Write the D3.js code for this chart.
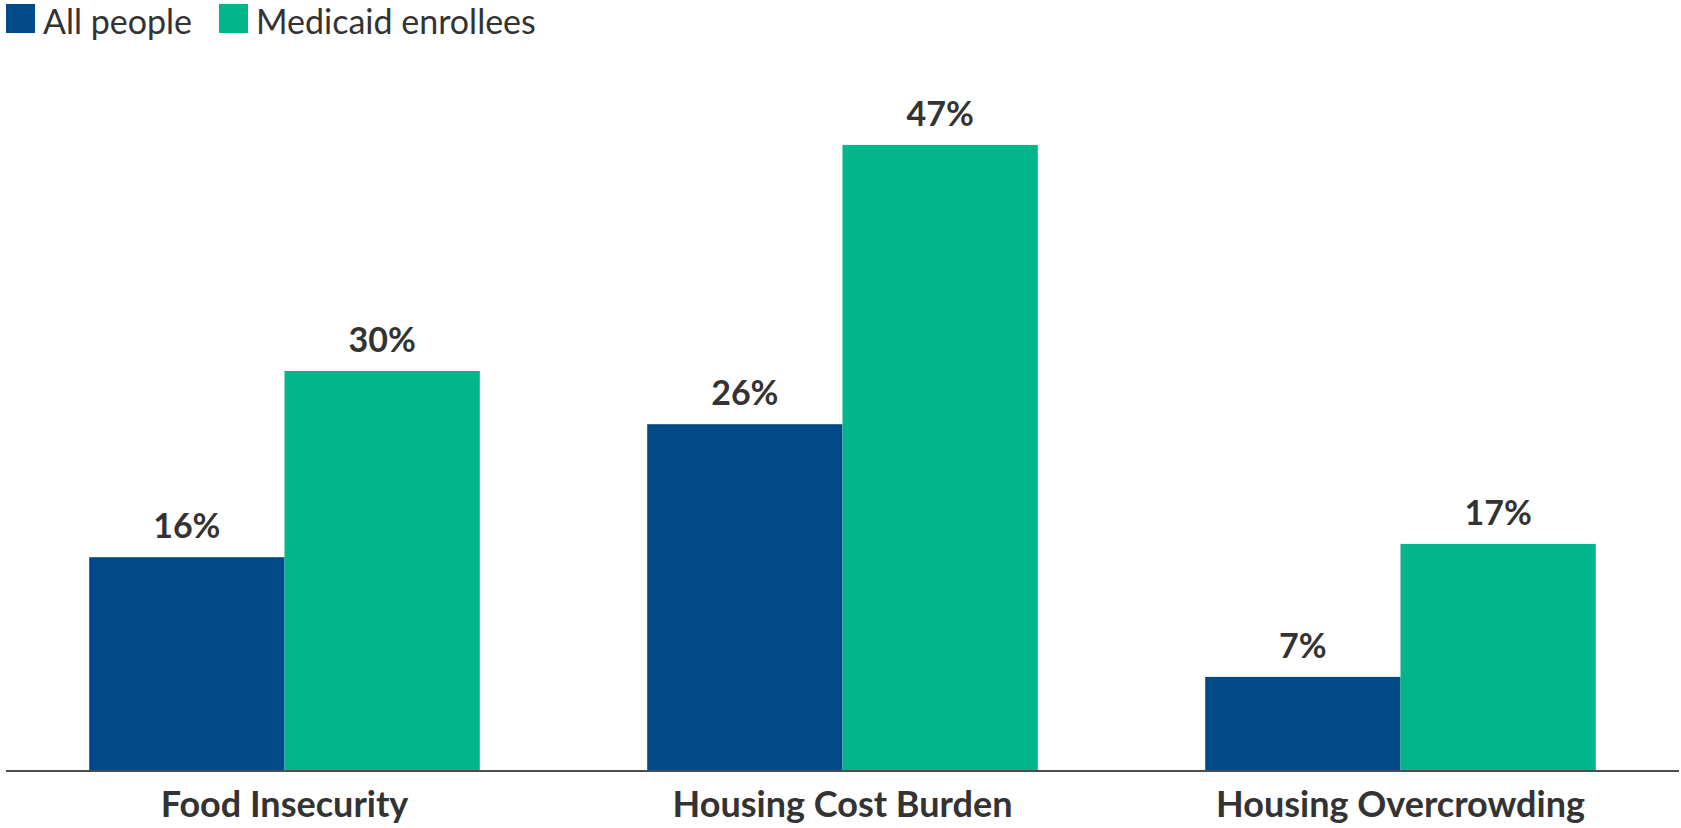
<!DOCTYPE html>
<html>
<head>
<meta charset="utf-8">
<script src="https://cdn.jsdelivr.net/npm/d3@7/dist/d3.min.js"></script>
<style>
  html, body { margin: 0; padding: 0; background: #fff; }
  svg { display: block; font-family: Lato, "Noto Sans", sans-serif; }
</style>
</head>
<body>
<svg id="chart" width="1681" height="828"></svg>
<script>
// Share of people facing each social need
const categories = ["Food Insecurity", "Housing Cost Burden", "Housing Overcrowding"];
const seriesNames = ["All people", "Medicaid enrollees"];
const allPeople = [16, 26, 7];
const medicaidEnrollees = [30, 47, 17];
const seriesColors = ["#004B87", "#00B68A"];

const svg = d3.select("#chart");
const baseY = 770;

const x0 = d3.scaleBand()
  .domain(categories)
  .range([5.5, 1679.5])
  .paddingInner(0.3)
  .paddingOuter(0.15);

const x1 = d3.scaleBand()
  .domain(seriesNames)
  .range([0, x0.bandwidth()])
  .padding(0);

const y = d3.scaleLinear()
  .domain([0, 50])
  .range([baseY, baseY - 665]);

const color = d3.scaleOrdinal().domain(seriesNames).range(seriesColors);

const rows = categories.map((c, i) => ({
  category: c,
  values: [
    { series: seriesNames[0], value: allPeople[i] },
    { series: seriesNames[1], value: medicaidEnrollees[i] }
  ]
}));

// Bars
const groups = svg.append("g")
  .selectAll("g")
  .data(rows)
  .join("g")
  .attr("transform", d => `translate(${x0(d.category)},0)`);

groups.selectAll("rect")
  .data(d => d.values)
  .join("rect")
  .attr("x", d => x1(d.series))
  .attr("y", d => y(d.value))
  .attr("width", x1.bandwidth())
  .attr("height", d => y(0) - y(d.value))
  .attr("fill", d => color(d.series));

// Value labels
groups.selectAll("text")
  .data(d => d.values)
  .join("text")
  .attr("x", d => x1(d.series) + x1.bandwidth() / 2)
  .attr("y", d => y(d.value) - 19)
  .attr("text-anchor", "middle")
  .attr("font-size", 34)
  .attr("font-weight", 700)
  .attr("fill", "#333")
  .text(d => d.value + "%");

// Category axis
const xAxis = svg.append("g")
  .attr("transform", `translate(0,${baseY})`)
  .call(d3.axisBottom(x0).tickSize(0).tickPadding(0));
xAxis.select(".domain").remove();
xAxis.selectAll(".tick text")
  .attr("dy", 0)
  .attr("y", 47)
  .attr("font-size", 36)
  .attr("font-weight", 700)
  .attr("font-family", "Lato, 'Noto Sans', sans-serif")
  .attr("fill", "#333");

svg.append("line")
  .attr("x1", 6).attr("x2", 1679)
  .attr("y1", baseY + 1).attr("y2", baseY + 1)
  .attr("stroke", "#4d4d4d")
  .attr("stroke-width", 2);

// Legend
const legend = svg.append("g");
const legendX = [6, 219];
seriesNames.forEach((name, i) => {
  const g = legend.append("g").attr("transform", `translate(${legendX[i]},4)`);
  g.append("rect").attr("width", 29).attr("height", 29).attr("fill", color(name));
  g.append("text")
    .attr("x", 37)
    .attr("y", 30)
    .attr("font-size", 34)
    .attr("fill", "#333")
    .text(name);
});
</script>
</body>
</html>
